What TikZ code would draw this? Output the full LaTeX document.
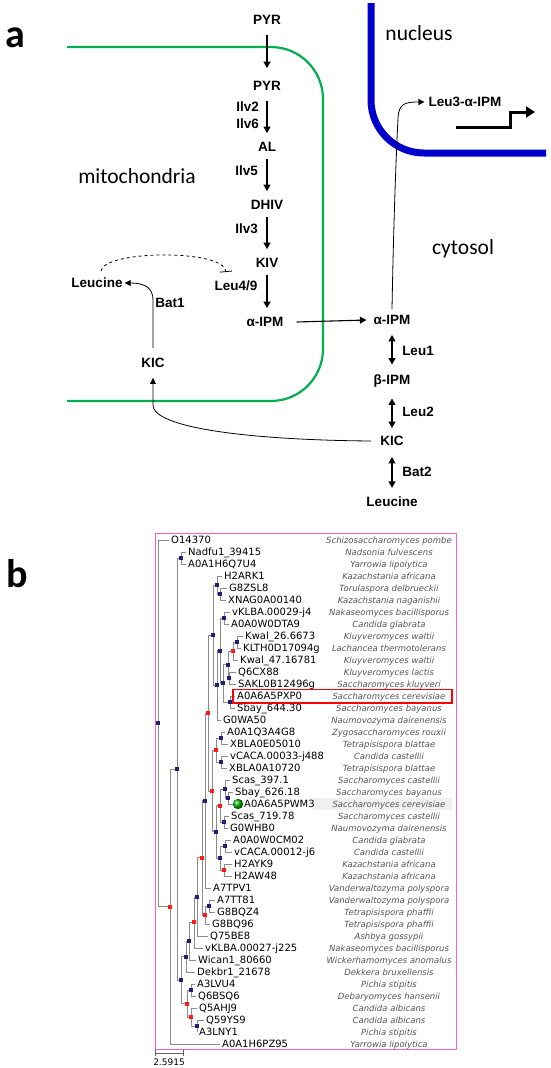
\documentclass[tikz,border=0pt]{standalone}
\usepackage{fontspec}
\setmainfont{Liberation Sans}
\newfontfamily\calib{Carlito}
\newfontfamily\dvs{DejaVu Sans}[ItalicFont={DejaVu Sans Oblique}]
\usetikzlibrary{arrows.meta,calc,shadings}
\definecolor{mitogreen}{HTML}{00B050}
\definecolor{nucblue}{HTML}{0000CC}
\definecolor{treepink}{HTML}{FF5CC0}
\definecolor{navymark}{HTML}{1F1F7A}
\definecolor{redmark}{HTML}{FF1A1A}
\definecolor{branch}{HTML}{8C8C8C}
\definecolor{spgray}{HTML}{555555}
\pgfdeclarelayer{background}
\pgfsetlayers{background,main}
\begin{document}
\begin{tikzpicture}[x=1pt,y=-1pt,
 met/.style={font=\fontsize{13.5}{13.5}\selectfont\bfseries, inner sep=0pt},
 comp/.style={font=\calib\fontsize{21.5}{21.5}\selectfont, inner sep=0pt},
 panel/.style={font=\calib\bfseries\fontsize{40}{40}\selectfont, inner sep=0pt},
 arr/.style={line width=1.1pt, -{Triangle[width=7pt,length=6.5pt]}},
 darr/.style={line width=1.1pt, {Triangle[width=7pt,length=6.5pt]}-{Triangle[width=7pt,length=6.5pt]}},
 thinarr/.style={line width=0.8pt, -{Triangle[width=6pt,length=6pt]}},
 leaf/.style={anchor=west, font=\dvs\fontsize{10}{10}\selectfont, inner xsep=2pt, inner ysep=0pt, text height=7.3pt, text depth=0pt},
 sp/.style={font=\dvs\itshape\fontsize{8.5}{8.5}\selectfont, text=spgray, inner sep=0pt, text height=6.2pt, text depth=0pt},
 edge/.style={draw=branch, line width=0.8pt},
 bm/.style={fill=navymark, minimum size=4pt, inner sep=0pt},
 rm/.style={fill=redmark, minimum size=4pt, inner sep=0pt},
]
\useasboundingbox (0,0) rectangle (550,1068);

% ---------------- panel a ----------------
\node[panel] (pa) at (15,38) {a};
\draw[mitogreen, line width=2.2pt, rounded corners=52pt] (67,47) -- (323,47) -- (323,401) -- (67,401);
\draw[nucblue, line width=7pt, rounded corners=53pt] (371,3) -- (371,153) -- (546,153);

\node[comp] (mito) at (137,176) {mitochondria};
\node[comp] (nuc) at (419,33) {nucleus};
\node[comp] (cyt) at (463,249) {cytosol};

\node[met] (pyr1) at (267,20) {PYR};
\node[met] (pyr2) at (267,86) {PYR};
\node[met] (al) at (267,147) {AL};
\node[met] (dhiv) at (267,205) {DHIV};
\node[met] (kiv) at (267,263) {KIV};
\node[met] (aipm1) at (265,322) {α-IPM};
\node[met] (leu49) at (236,286) {Leu4/9};
\node[met] (leucL) at (97,283) {Leucine};
\node[met] (kicL) at (153,363) {KIC};
\node[met] (bat1) at (170,303) {Bat1};
\node[met] (aipm2) at (392,320) {α-IPM};
\node[met] (bipm) at (392,381) {β-IPM};
\node[met] (kicR) at (392,441) {KIC};
\node[met] (leucR) at (392,502) {Leucine};
\node[met] (leu1) at (418,351) {Leu1};
\node[met] (leu2) at (418,412) {Leu2};
\node[met] (bat2) at (417,472) {Bat2};
\node[met, anchor=east] (ilv2) at (259,107) {Ilv2};
\node[met, anchor=east] (ilv6) at (259,124) {Ilv6};
\node[met, anchor=east] (ilv5) at (258,171) {Ilv5};
\node[met, anchor=east] (ilv3) at (258,229) {Ilv3};
\node[met] (leu3) at (465,102) {Leu3-α-IPM};

\draw[arr] ($(pyr1.south)+(0,10)$) -- ($(pyr2.north)+(0,-13)$);
\draw[arr] ($(pyr2.south)+(0,10)$) -- ($(al.north)+(0,-9)$);
\draw[arr] ($(al.south)+(0,7)$) -- ($(dhiv.north)+(0,-9)$);
\draw[arr] ($(dhiv.south)+(0,7)$) -- ($(kiv.north)+(0,-9)$);
\draw[arr] ($(kiv.south)+(0,7)$) -- ($(kiv.south |- aipm1.north)+(0,-9)$);
\draw[arr] ($(aipm1.east)+(13,0)$) -- ($(aipm2.west)+(-7,0)$);
\draw[darr] ($(aipm2.south)+(0,10)$) -- ($(bipm.north)+(0,-10)$);
\draw[darr] ($(bipm.south)+(0,11)$) -- ($(kicR.north)+(0,-8)$);
\draw[darr] ($(kicR.south)+(0,11)$) -- ($(leucR.north)+(0,-9)$);
\draw[thinarr] ($(kicR.west)+(-9,0)$) .. controls (250,440) and (153,428) .. (153,405) -- ($(kicL.south)+(0,10)$);
\draw[thinarr] ($(kicL.north)+(0,-10)$) -- (153,300) .. controls (153,288) and (145,283) .. ($(leucL.east)+(2,0)$);
\draw[line width=0.8pt, dashed, -{Bar[width=12pt]}] (101,271) .. controls (104,250) and (224,249) .. (226,272);
\draw[thinarr] ($(aipm2.north)+(0,-6)$) .. controls (394,200) and (397,140) .. (398,118) .. controls (399,104) and (404,102) .. ($(leu3.west)+(-4,0)$);
\draw[line width=3pt, -{Triangle[width=11pt,length=9pt]}] (456,127) -- (510,127) -- (510,112) -- (535,112);

% ---------------- panel b ----------------
\node[panel] (pb) at (17,574) {b};
\begin{pgfonlayer}{background}
\fill[gray!12] (313,798) rectangle (452,810);
\end{pgfonlayer}
\draw[treepink, line width=1pt] (155,533) rectangle (456,1049);
\draw[red, line width=1.8pt] (233,689.5) rectangle (452,703);

\foreach \lx/\lt [count=\i] in {171/O14370, 188/Nadfu1\_39415, 188/A0A1H6Q7U4, 224/H2ARK1, 229/G8ZSL8, 228/XNAG0A00140, 232/vKLBA.00029-j4, 231/A0A0W0DTA9, 245/Kwal\_26.6673, 243/KLTH0D17094g, 240/Kwal\_47.16781, 238/Q6CX88, 238/SAKL0B12496g, 237/A0A6A5PXP0, 237/Sbay\_644.30, 223/G0WA50, 227/A0A1Q3A4G8, 230/XBLA0E05010, 230/vCACA.00033-j488, 229/XBLA0A10720, 232/Scas\_397.1, 235/Sbay\_626.18, 244/A0A6A5PWM3, 231/Scas\_719.78, 230/G0WHB0, 233/A0A0W0CM02, 234/vCACA.00012-j6, 234/H2AYK9, 234/H2AW48, 213/A7TPV1, 217/A7TT81, 217/G8BQZ4, 212/G8BQ96, 210/Q75BE8, 205/vKLBA.00027-j225, 198/Wican1\_80660, 197/Dekbr1\_21678, 197/A3LVU4, 198/Q6BSQ6, 199/Q5AHJ9, 206/Q59YS9, 199/A3LNY1, 222/A0A1H6PZ95}
  \node[leaf] (L\i) at (\lx-2, {540+12*(\i-1)}) {\lt};

\foreach \s [count=\i] in {Schizosaccharomyces pombe, Nadsonia fulvescens, Yarrowia lipolytica, Kazachstania africana, Torulaspora delbrueckii, Kazachstania naganishii, Nakaseomyces bacillisporus, Candida glabrata, Kluyveromyces waltii, Lachancea thermotolerans, Kluyveromyces waltii, Kluyveromyces lactis, Saccharomyces kluyveri, Saccharomyces cerevisiae, Saccharomyces bayanus, Naumovozyma dairenensis, Zygosaccharomyces rouxii, Tetrapisispora blattae, Candida castellii, Tetrapisispora blattae, Saccharomyces castellii, Saccharomyces bayanus, Saccharomyces cerevisiae, Saccharomyces castellii, Naumovozyma dairenensis, Candida glabrata, Candida castellii, Kazachstania africana, Kazachstania africana, Vanderwaltozyma polyspora, Vanderwaltozyma polyspora, Tetrapisispora phaffii, Tetrapisispora phaffii, Ashbya gossypii, Nakaseomyces bacillisporus, Wickerhamomyces anomalus, Dekkera bruxellensis, Pichia stipitis, Debaryomyces hansenii, Candida albicans, Candida albicans, Pichia stipitis, Yarrowia lipolytica}
  \node[sp] (S\i) at (389, {540+12*(\i-1)}) {\s};

% internal nodes
\foreach \n/\x/\y in {R/158/723.25, N2/177/769, C23/181/558, N3/181/980, c3839/191/990, c4142/197/1026, k5/186/956.6, k4/189/941.2, k2/197/896.9, m0/209/906, j2/205/800.5, a3/213/635.2, a2/217/585, a1/220/594, e4/217/685.3, e3/220/650.6, b1/224/618, e2/223/683.25, c3/228/664.5, c1/237/642, d1/229/678, e1/230/702, f1/221/738, f2/221/762, h4/216/831.75, g2/225/789, g1/228/798, g3/224/822, h3/220/858, h1/225/846}
  \node[bm] (\n) at (\x,\y) {};
\foreach \n/\x/\y in {N1/170/906.5, P/187/1003.5, c4042/191/1017, k3/194/922.4, k1/202/857.8, m1/205/915, j1/208/713, c2/233/651, i1/212/790.9, f3/216/750, g4/220/805.5, h2/224/870}
  \node[rm] (\n) at (\x,\y) {};

\begin{pgfonlayer}{background}
\foreach \p/\c in {R/N1, N1/N2, N2/C23, N2/N3, N3/k5, N3/P, P/c3839, P/c4042, c4042/c4142, k5/k4, k4/k3, k3/k2, k2/k1, k1/j2, k1/m1, m1/m0, j2/j1, j1/a3, j1/i1, a3/a2, a3/e4, a2/a1, e4/e3, e3/b1, e3/e2, e2/c3, e2/e1, c3/c2, c3/d1, c2/c1, i1/f3, i1/h4, f3/f1, f3/f2, h4/g4, h4/h3, g4/g2, g4/g3, g2/g1, h3/h1, h3/h2}
  \draw[edge] (\p.center) |- (\c.center);
\foreach \p/\c in {R/L1, C23/L2, C23/L3, N1/L43, c3839/L38, c3839/L39, c4042/L40, c4142/L41, c4142/L42, k5/L37, k4/L36, k3/L35, k2/L34, m1/L33, m0/L31, m0/L32, j2/L30, a2/L4, a1/L5, a1/L6, e4/L16, b1/L7, b1/L8, e1/L14, e1/L15, c2/L11, c1/L9, c1/L10, d1/L12, d1/L13, f1/L17, f1/L18, f2/L19, f2/L20, g2/L21, g1/L22, g1/L23, g3/L24, g3/L25, h1/L26, h1/L27, h2/L28, h2/L29}
  \draw[edge] (\p.center) |- (\c.west);
\end{pgfonlayer}

\shade[ball color=green!70!black] (238,804) circle (5.2pt);

% scale bar
\coordinate (sb1) at (155,1053);
\coordinate (sb2) at (183,1053);
\draw[branch!70!black, line width=0.8pt] (sb1) -- (sb2);
\draw[branch!70!black, line width=0.8pt] ($(sb1)+(0,-3)$) -- ($(sb1)+(0,3)$);
\draw[branch!70!black, line width=0.8pt] ($(sb2)+(0,-3)$) -- ($(sb2)+(0,3)$);
\node[font=\dvs\fontsize{9}{9}\selectfont, inner sep=0pt] (sbl) at (169,1062) {2.5915};
\end{tikzpicture}
\end{document}
